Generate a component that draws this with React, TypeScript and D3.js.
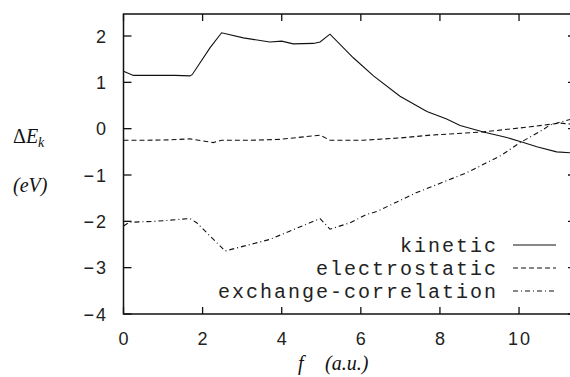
import React from 'react';
import * as d3 from 'd3';

// f (a.u.) sample points and energy differences (eV)
const kineticX = [0, 0.25, 0.8, 1.3, 1.68, 1.74, 2.19, 2.48, 3.03, 3.7, 4.0, 4.29, 4.8, 4.97, 5.22, 5.81, 6.32, 6.99, 7.67, 8.17, 8.51, 9.1, 9.69, 10.11, 10.45, 10.95, 11.3];
const kineticY = [1.24, 1.15, 1.15, 1.15, 1.14, 1.17, 1.75, 2.07, 1.96, 1.87, 1.89, 1.83, 1.84, 1.87, 2.04, 1.53, 1.14, 0.7, 0.37, 0.21, 0.07, -0.07, -0.19, -0.3, -0.39, -0.5, -0.52];

const electroX = [0, 0.6, 1.2, 1.68, 2.27, 2.48, 3.2, 3.96, 4.97, 5.22, 5.73, 6.06, 7.0, 7.75, 9.1, 10.28, 11.04, 11.3];
const electroY = [-0.25, -0.25, -0.24, -0.22, -0.3, -0.25, -0.25, -0.23, -0.14, -0.25, -0.25, -0.25, -0.2, -0.14, -0.07, 0.04, 0.12, 0.1];

const xcX = [0, 0.15, 0.8, 1.68, 1.85, 2.44, 2.57, 3.7, 4.97, 5.22, 5.73, 6.15, 6.4, 7.41, 8.68, 9.52, 10.03, 10.61, 10.78, 11.3];
const xcY = [-2.1, -2.02, -2.0, -1.94, -2.03, -2.53, -2.64, -2.39, -1.94, -2.17, -2.03, -1.85, -1.79, -1.38, -0.95, -0.59, -0.3, -0.02, 0.08, 0.2];

const xTicks = [0, 2, 4, 6, 8, 10];
const yTicks = [2, 1, 0, -1, -2, -3, -4];
const legendLabels = ['kinetic', 'electrostatic', 'exchange-correlation'];
const dashes = ['none', '5,3', '5,3,1,3'];

const W = 570;
const H = 377;
const left = 123.5;
const right = 576;
const top = 14;
const bottom = 314;

const App = () => {
  const x = d3.scaleLinear().domain([0, 11.44]).range([left, right]);
  const y = d3.scaleLinear().domain([-4, 2.475]).range([bottom, top]);

  const line = d3.line<[number, number]>()
    .x(d => x(d[0]))
    .y(d => y(d[1]));

  const series = [
    kineticX.map((v, i) => [v, kineticY[i]] as [number, number]),
    electroX.map((v, i) => [v, electroY[i]] as [number, number]),
    xcX.map((v, i) => [v, xcY[i]] as [number, number]),
  ];

  const fmt = (v: number) => (v < 0 ? '\u2212' + Math.abs(v) : String(v));
  const tickFont = { fontFamily: 'Liberation Sans, Arial, sans-serif', fontSize: 18, fill: '#222' };
  const mathFont = { fontFamily: 'Liberation Serif, Times New Roman, serif', fontStyle: 'italic', fontSize: 20, fill: '#111' };

  return (
    <svg width={W} height={H} style={{ position: 'absolute', left: 0, top: 0, background: '#fff' }}>
      <defs>
        <clipPath id="plot">
          <rect x={left} y={top} width={right - left} height={bottom - top} />
        </clipPath>
      </defs>

      {/* curves */}
      <g clipPath="url(#plot)" fill="none" stroke="#111" strokeWidth={1.1}>
        {series.map((s, i) => (
          <path key={i} d={line(s) || ''} strokeDasharray={dashes[i]} />
        ))}
      </g>

      {/* frame and ticks */}
      <rect x={left} y={top} width={right - left} height={bottom - top} fill="none" stroke="#111" strokeWidth={1.5} />
      <g stroke="#111" strokeWidth={1.3}>
        {xTicks.map(t => (
          <g key={'x' + t}>
            <line x1={x(t)} x2={x(t)} y1={bottom} y2={bottom - 7} />
            <line x1={x(t)} x2={x(t)} y1={top} y2={top + 7} />
          </g>
        ))}
        {yTicks.map(t => (
          <g key={'y' + t}>
            <line x1={left} x2={left + 8} y1={y(t)} y2={y(t)} />
            <line x1={right} x2={right - 8} y1={y(t)} y2={y(t)} />
          </g>
        ))}
      </g>

      {/* tick labels */}
      {xTicks.map(t => (
        <text key={'xl' + t} x={x(t) + 1} y={345} textAnchor="middle" letterSpacing={2} {...tickFont}>
          {t}
        </text>
      ))}
      {yTicks.map(t => (
        <text key={'yl' + t} x={108} y={y(t) + 6.5} textAnchor="end" letterSpacing={2} {...tickFont}>
          {fmt(t)}
        </text>
      ))}

      {/* axis labels */}
      <text x={13} y={143} {...mathFont}>
        <tspan fontStyle="normal">Δ</tspan>E<tspan fontSize={14} dy={4}>k</tspan>
      </text>
      <text x={13} y={192} {...mathFont}>
        (<tspan>eV</tspan>)
      </text>
      <text x={298} y={370} {...mathFont}>f</text>
      <text x={325} y={370} {...mathFont}>(a.u.)</text>

      {/* legend */}
      {legendLabels.map((l, i) => (
        <g key={l}>
          <text x={498} y={252 + i * 23} textAnchor="end" fontFamily="Liberation Mono, Courier New, monospace" fontSize={20} letterSpacing={2} fill="#222">
            {l}
          </text>
          <line x1={513} x2={556} y1={245 + i * 23} y2={245 + i * 23} stroke="#111" strokeWidth={1.1} strokeDasharray={dashes[i]} />
        </g>
      ))}
    </svg>
  );
};

export default App;
